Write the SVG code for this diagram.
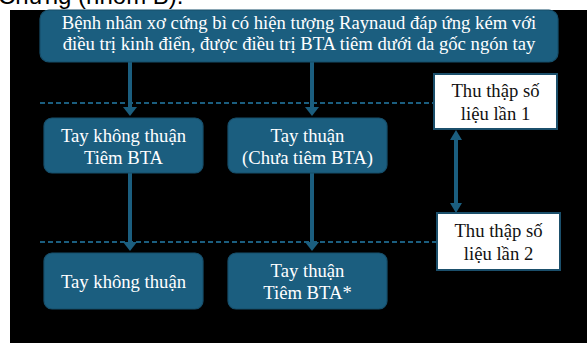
<svg xmlns="http://www.w3.org/2000/svg" width="587" height="343" viewBox="0 0 587 343">
<style>
.bx{fill:#1b5e7f;stroke:#174f6b;stroke-width:1.2}
.wb{fill:#ffffff;stroke:#1b4f6b;stroke-width:2}
.t{font-family:"Liberation Serif","Times New Roman",serif;font-size:18.67px;text-anchor:middle;fill:#ffffff}
.k{fill:#111111}
.ln{stroke:#1b5e7f;stroke-width:4;fill:none}
.ds{stroke:#1b5e7f;stroke-width:2;stroke-dasharray:5 3;fill:none}
</style>
<defs>
<marker id="ah" markerUnits="userSpaceOnUse" markerWidth="14" markerHeight="10" refX="7" refY="9" orient="auto-start-reverse" viewBox="0 0 14 10">
<path d="M0,0 L14,0 L7,10 Z" fill="#1b5e7f" transform="rotate(0)"/>
</marker>
</defs>
<rect width="587" height="343" fill="#ffffff"/>
<text x="-2" y="4" font-family="Liberation Sans,Arial,sans-serif" font-size="24" fill="#000">Chứng (nhóm B).</text>
<rect x="10" y="10" width="577" height="333" fill="#000000"/>
<g id="connectors">
<line class="ds" x1="40" y1="103" x2="434" y2="103"/>
<line class="ds" x1="40" y1="242" x2="437" y2="242"/>
<path class="ln" d="M130,62 V108"/>
<path d="M123,107 H137 L130,116 Z" fill="#1b5e7f"/>
<path class="ln" d="M312,62 V108"/>
<path d="M305,107 H319 L312,116 Z" fill="#1b5e7f"/>
<path class="ln" d="M130,173 V243"/>
<path d="M123,242 H137 L130,251 Z" fill="#1b5e7f"/>
<path class="ln" d="M312,173 V243"/>
<path d="M305,242 H319 L312,251 Z" fill="#1b5e7f"/>
<path class="ln" d="M456,138 V204"/>
<path d="M450,140 H462 L456,130 Z" fill="#1b5e7f"/>
<path d="M450,203 H462 L456,213 Z" fill="#1b5e7f"/>
</g>
<g id="top">
<rect class="bx" x="40" y="10" width="518" height="52" rx="9"/>
<text class="t" x="299" y="29">Bệnh nhân xơ cứng bì có hiện tượng Raynaud đáp ứng kém với</text>
<text class="t" x="299" y="50">điều trị kinh điển, được điều trị BTA tiêm dưới da gốc ngón tay</text>
</g>
<g id="r1a">
<rect class="bx" x="44" y="118" width="159" height="55" rx="8"/>
<text class="t" x="123.5" y="142">Tay không thuận</text>
<text class="t" x="123.5" y="164">Tiêm BTA</text>
</g>
<g id="r1b">
<rect class="bx" x="228" y="118" width="159" height="55" rx="8"/>
<text class="t" x="307.5" y="142">Tay thuận</text>
<text class="t" x="307.5" y="164">(Chưa tiêm BTA)</text>
</g>
<g id="r2a">
<rect class="bx" x="44" y="253" width="159" height="56" rx="8"/>
<text class="t" x="123.5" y="288">Tay không thuận</text>
</g>
<g id="r2b">
<rect class="bx" x="228" y="253" width="159" height="56" rx="8"/>
<text class="t" x="307.5" y="277">Tay thuận</text>
<text class="t" x="307.5" y="299">Tiêm BTA*</text>
</g>
<g id="c1">
<rect class="wb" x="434" y="74" width="123" height="55"/>
<text class="t k" x="495.5" y="97">Thu thập số</text>
<text class="t k" x="495.5" y="120">liệu lần 1</text>
</g>
<g id="c2">
<rect class="wb" x="437" y="213" width="123" height="57"/>
<text class="t k" x="498.5" y="237">Thu thập số</text>
<text class="t k" x="498.5" y="260">liệu lần 2</text>
</g>
</svg>
